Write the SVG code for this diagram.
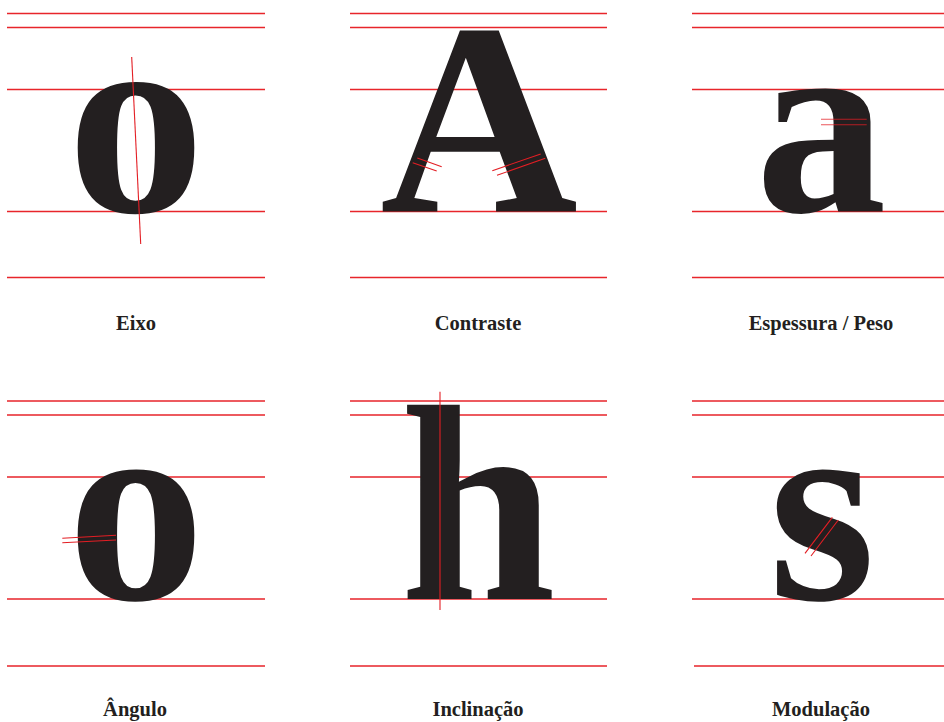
<svg xmlns="http://www.w3.org/2000/svg" width="944" height="722" viewBox="0 0 944 722">
<style>
.g{stroke:#e8252b;stroke-width:1.4;fill:none}
.m{stroke:#e31e24;stroke-width:1.1;fill:none}
.L{font-family:"Liberation Serif","Times New Roman",serif;font-weight:bold;font-size:275px;fill:#231f20;text-anchor:middle}
.t{font-family:"Liberation Serif","Times New Roman",serif;font-weight:bold;font-size:20.5px;fill:#231f20;text-anchor:middle}
</style>
<rect width="944" height="722" fill="#fff"/>
<g id="guides">
<path class="g" d="M7 13.5H265M7 27.5H265M7 89.5H265M7 211.5H265M7 277.5H265"/>
<path class="g" d="M350 13.5H607M350 27.5H607M350 89.5H607M350 211.5H607M350 277.5H607"/>
<path class="g" d="M692 13.5H944M692 27.5H944M692 89.5H944M692 211.5H944M692 277.5H944"/>
<path class="g" d="M7 401H265M7 415H265M7 477H265M7 599H265M7 666H265"/>
<path class="g" d="M350 401H607M350 415H607M350 477H607M350 599H607M350 666H607"/>
<path class="g" d="M692 401H944M692 415H944M692 477H944M692 599H944M694 666H944"/>
</g>
<g id="eixo">
<text class="L" x="136" y="211.5">o</text>
<text class="t" x="136" y="330">Eixo</text>
</g>
<g id="contraste">
<text class="L" x="479" y="211.5" style="font-size:274px">A</text>
<text class="t" x="478" y="330">Contraste</text>
</g>
<g id="espessura">
<text class="L" x="821" y="211.5" style="font-size:262px">a</text>
<text class="t" x="821" y="330">Espessura / Peso</text>
</g>
<g id="angulo">
<text class="L" x="136" y="599">o</text>
<text class="t" x="135" y="716">Ângulo</text>
</g>
<g id="inclinacao">
<text class="L" x="478" y="599" style="font-size:280px">h</text>
<text class="t" x="478" y="716">Inclinação</text>
</g>
<g id="modulacao">
<text class="L" x="822" y="599">s</text>
<text class="t" x="821" y="716">Modulação</text>
</g>
<g id="connectors">
<path class="m" d="M131.7 57L140.7 244"/>
<path class="m" d="M417.3 158L441.7 166.7M412.7 162.7L436.7 171"/>
<path class="m" d="M492.3 170.7L540.7 154M497 175.3L545.3 158.3"/>
<path class="m" stroke-opacity="0.75" stroke-width="1.5" d="M821 119.3H866.7M821 124.7H866.7"/>
<path class="m" d="M62.3 538.3L116 535.3M62.3 542.7L116 540"/>
<path class="m" d="M440 391.7V610"/>
<path class="m" d="M805 553.3L832.3 517.3M811 556L838.3 520"/>
</g>
</svg>
